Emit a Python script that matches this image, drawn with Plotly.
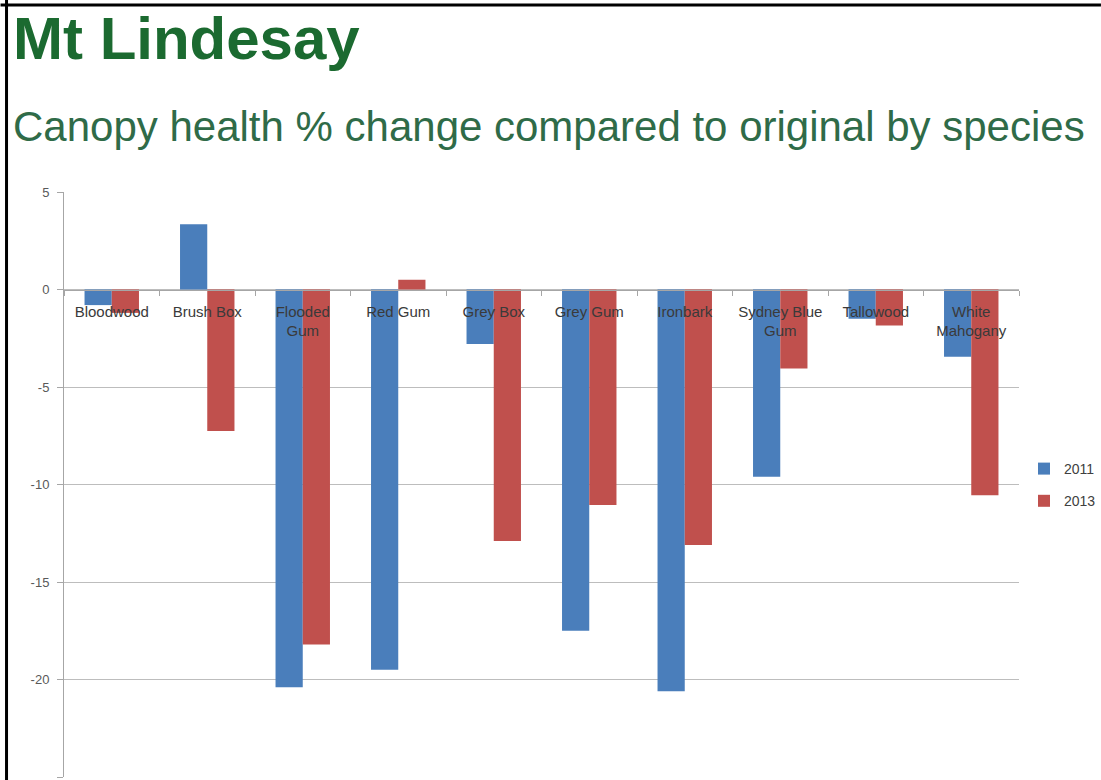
import plotly.graph_objects as go

# Canopy health change (%) by species, relative to the original survey
species = ["Bloodwood", "Brush Box", "Flooded<br>Gum", "Red Gum", "Grey Box",
           "Grey Gum", "Ironbark", "Sydney Blue<br>Gum", "Tallowood", "White<br>Mahogany"]
change_2011 = [-0.8, 3.35, -20.4, -19.5, -2.8, -17.5, -20.6, -9.6, -1.5, -3.45]
change_2013 = [-1.2, -7.25, -18.2, 0.5, -12.9, -11.05, -13.1, -4.05, -1.85, -10.55]

y_ticks = [5, 0, -5, -10, -15, -20, -25]
y_tick_text = ["5", "0", "-5", "-10", "-15", "-20", "-25"]
y_min, y_max = -25, 5

W, H = 1101, 780
M_L, M_R, M_T, M_B = 63.5, 82, 192, 3
plot_w = W - M_L - M_R
plot_h = H - M_T - M_B


def px_x(px):
    return (px - M_L) / plot_w


def px_y(py):
    return (H - M_B - py) / plot_h


BLUE = "#4A7EBB"
RED = "#C0504D"
TITLE_GREEN = "#1B6A30"
SUB_GREEN = "#2F6B48"
FONT = "Liberation Sans, Arial, sans-serif"

fig = go.Figure()
fig.add_trace(go.Bar(x=species, y=change_2011, name="2011", marker_color=BLUE,
                     marker_line_width=0, legendgroup="a"))
fig.add_trace(go.Bar(x=species, y=change_2013, name="2013", marker_color=RED,
                     marker_line_width=0, legendgroup="b"))

fig.update_layout(
    width=W, height=H,
    margin=dict(l=M_L, r=M_R, t=M_T, b=M_B, autoexpand=False),
    paper_bgcolor="white", plot_bgcolor="white",
    barmode="group", bargap=0.43, bargroupgap=0,
    font=dict(family=FONT, color="#404040"),
    legend=dict(x=px_x(1024), xanchor="left", y=px_y(485), yanchor="middle",
                font=dict(size=14, color="#404040"), tracegroupgap=11,
                itemwidth=30, bgcolor="rgba(0,0,0,0)"),
)

fig.update_xaxes(
    type="category", anchor="free",
    position=(0 - y_min) / (y_max - y_min),
    showline=True, linecolor="#A6A6A6", linewidth=1,
    ticks="outside", tickson="boundaries", ticklen=5, tickcolor="#A6A6A6",
    showgrid=False, tickfont=dict(size=15, color="#3A3A3A"),
    ticklabelstandoff=8,
)
fig.update_yaxes(
    range=[y_min, y_max], tickvals=y_ticks, ticktext=y_tick_text,
    showline=True, linecolor="#A6A6A6", linewidth=1,
    ticks="outside", ticklen=6, tickcolor="#A6A6A6",
    showgrid=True, gridcolor="#BDBDBD", gridwidth=1, zeroline=False,
    tickfont=dict(size=13, color="#595959"), ticklabelstandoff=5,
)

# Headings
fig.add_annotation(text="<b>Mt Lindesay</b>", xref="paper", yref="paper",
                   x=px_x(10), y=px_y(38), xanchor="left", yanchor="middle",
                   showarrow=False, font=dict(size=60, color=TITLE_GREEN, family=FONT))
fig.add_annotation(text="Canopy health % change compared to original by species",
                   xref="paper", yref="paper", x=px_x(10), y=px_y(127),
                   xanchor="left", yanchor="middle", showarrow=False,
                   font=dict(size=42, color=SUB_GREEN, family=FONT))

# Frame lines along the top and left edges
fig.add_shape(type="line", xref="paper", yref="paper",
              x0=px_x(0), x1=px_x(W), y0=px_y(5), y1=px_y(5),
              line=dict(color="black", width=3))
fig.add_shape(type="line", xref="paper", yref="paper",
              x0=px_x(6), x1=px_x(6), y0=px_y(0), y1=px_y(H),
              line=dict(color="black", width=3))

fig.write_html("out.html")
